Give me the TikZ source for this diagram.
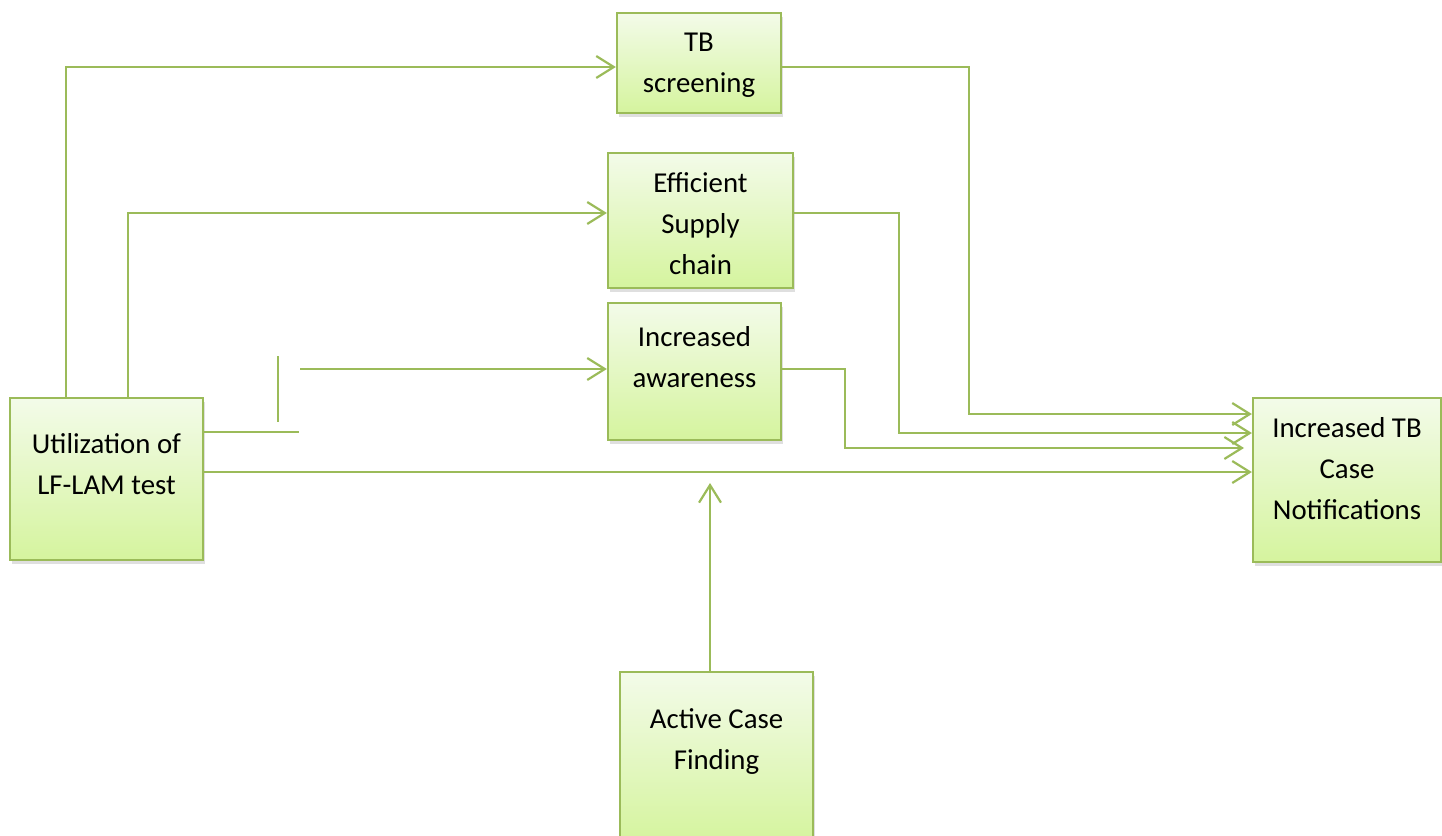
\documentclass[tikz,border=0pt]{standalone}
\usepackage{fontspec}
\setmainfont{Carlito}
\usepackage{tikz}
\usetikzlibrary{positioning,calc,shadows,arrows.meta}
\definecolor{OliveLine}{RGB}{155,187,89}
\definecolor{LimeTop}{RGB}{243,251,233}
\definecolor{LimeBottom}{RGB}{213,244,158}

\begin{document}
\begin{tikzpicture}[
      x=0.02cm, y=-0.02cm,
      box/.style={rectangle, draw=OliveLine, line width=1.3pt, top color=LimeTop, bottom color=LimeBottom, drop shadow={opacity=0.25, shadow xshift=1pt, shadow yshift=-2.5pt}},
      boxtext/.style={anchor=north, align=center, inner sep=0pt, font=\fontsize{16.4}{23.3}\selectfont},
      line/.style={OliveLine, line width=1.25pt},
      link/.style={line, -{Straight Barb[length=10pt, width=12.5pt, line width=1.25pt]}}
    ]
      \useasboundingbox (0,0) rectangle (1442,835);
      \clip (0,0) rectangle (1442,835);

      % boxes
      \node[box, minimum width=3.86cm, minimum height=3.24cm] (util) at (106.5,479) {};
      \node[box, minimum width=3.28cm, minimum height=2.00cm] (tbs) at (699,63) {};
      \node[box, minimum width=3.70cm, minimum height=2.70cm] (supply) at (700.5,220.5) {};
      \node[box, minimum width=3.46cm, minimum height=2.74cm] (aware) at (694.5,371.5) {};
      \node[box, minimum width=3.76cm, minimum height=3.28cm] (notif) at (1347,480) {};
      \node[box, minimum width=3.86cm, minimum height=3.40cm] (acf) at (716.5,757) {};

      % texts
      \node[boxtext] (utiltxt) at ($(util.north)+(0,36)$) {Utilization of\\LF-LAM test};
      \node[boxtext] (tbstxt) at ($(tbs.north)+(0,21)$) {TB\\screening};
      \node[boxtext] (supplytxt) at ($(supply.north)+(0,20)$) {Efficient\\Supply\\chain};
      \node[boxtext] (awaretxt) at ($(aware.north)+(0,24)$) {Increased\\awareness};
      \node[boxtext] (notiftxt) at ($(notif.north)+(0,20)$) {Increased TB\\Case\\Notifications};
      \node[boxtext] (acftxt) at ($(acf.north)+(0,37)$) {Active Case\\Finding};

      % free ends
      \coordinate (stubend) at (299,432);
      \coordinate (ticktop) at (278,356);
      \coordinate (tickbot) at (278,422);
      \coordinate (stubstart) at (300,369);
      \coordinate (awarein) at (1244,448);
      \coordinate (acfend) at (710,483);

      % connectors
      \draw[link] (util.north -| 66,0) |- (tbs.west |- 0,67);
      \draw[link] (util.north -| 128,0) |- (supply.west |- 0,213);
      \draw[line] (util.east |- 0,432) -- (stubend);
      \draw[line] (ticktop) -- (tickbot);
      \draw[link] (stubstart) -- (aware.west |- stubstart);
      \draw[link] (util.east |- 0,472) -- (notif.west |- 0,472);
      \draw[link] (tbs.east |- 0,67) -- (969,67) |- (notif.west |- 0,414);
      \draw[link] (supply.east |- 0,213) -- (899,213) |- (notif.west |- 0,433);
      \draw[link] (aware.east |- 0,369) -- (845,369) |- (awarein);
      \draw[link] (acf.north -| acfend) -- (acfend);
    \end{tikzpicture}
\end{document}
